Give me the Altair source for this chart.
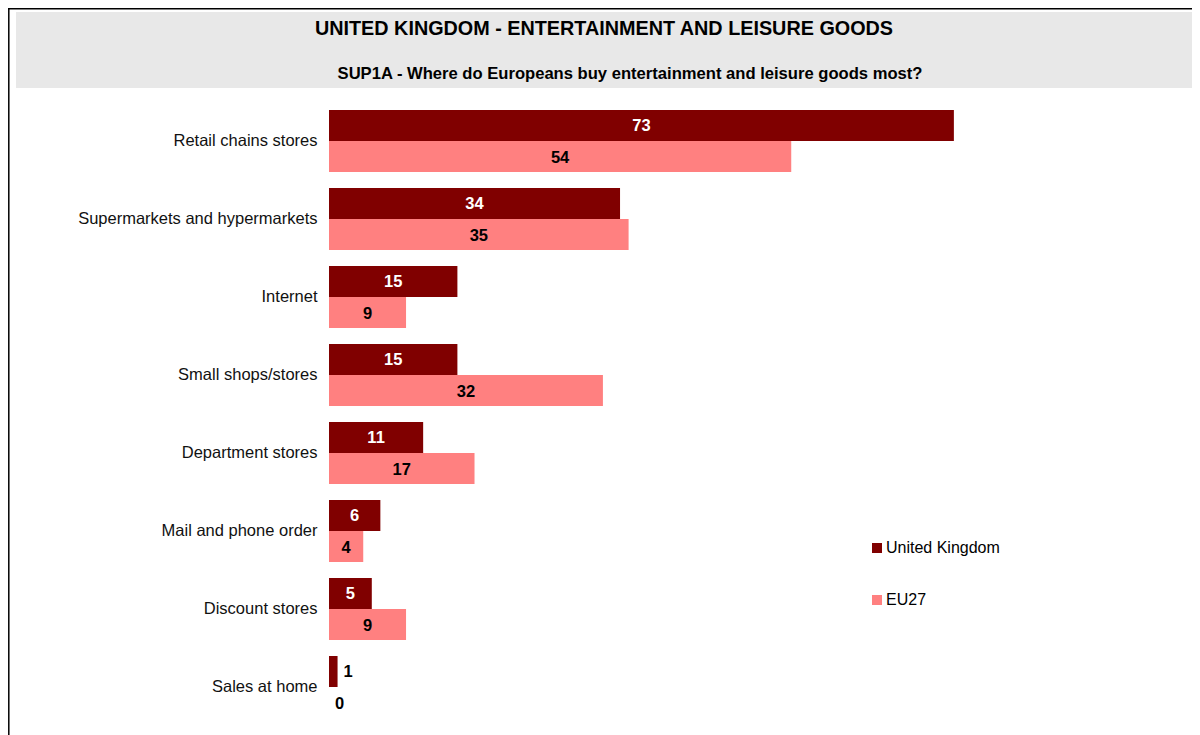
import altair as alt
import pandas as pd

categories = ["Retail chains stores", "Supermarkets and hypermarkets", "Internet",
              "Small shops/stores", "Department stores", "Mail and phone order",
              "Discount stores", "Sales at home"]
series = ["United Kingdom", "EU27"]
uk_values = [73, 34, 15, 15, 11, 6, 5, 1]
eu_values = [54, 35, 9, 32, 17, 4, 9, 0]
colors = ["#800000", "#FF8080"]
title_text = "UNITED KINGDOM - ENTERTAINMENT AND LEISURE GOODS"
subtitle_text = "SUP1A - Where do Europeans buy entertainment and leisure goods most?"

rows = []
for c, u, e in zip(categories, uk_values, eu_values):
    rows.append({"category": c, "series": series[0], "value": u})
    rows.append({"category": c, "series": series[1], "value": e})
df = pd.DataFrame(rows)

FONT = "Liberation Sans"
LBL = 16.5

base = alt.Chart(df)

y_enc = alt.Y("category:N", sort=categories,
              scale=alt.Scale(paddingInner=0.205, paddingOuter=0.1025),
              axis=alt.Axis(title=None, domain=False, ticks=False, labelFontSize=LBL,
                            labelPadding=12, labelColor="#111111", labelFont=FONT,
                            labelLimit=400))
yoff_enc = alt.YOffset("series:N", sort=series,
                       scale=alt.Scale(domain=series, paddingInner=0, paddingOuter=0))
x_scale = alt.Scale(domain=[0, 100])

bars = base.mark_bar().encode(
    y=y_enc,
    yOffset=yoff_enc,
    x=alt.X("value:Q", scale=x_scale, axis=None),
    color=alt.Color("series:N", sort=series,
                    scale=alt.Scale(domain=series, range=colors),
                    legend=alt.Legend(title=None, orient="none", legendX=540, legendY=438,
                                      symbolType="square", symbolSize=100,
                                      symbolStrokeWidth=0, labelFontSize=16,
                                      labelFont=FONT, labelColor="black",
                                      rowPadding=36, labelOffset=1)),
)

inside_uk = base.transform_filter(
    (alt.datum.value >= 3) & (alt.datum.series == series[0])
).transform_calculate(mid="datum.value / 2").mark_text(
    font=FONT, fontSize=LBL, fontWeight="bold", color="white", align="center",
    baseline="middle", dy=1
).encode(y=y_enc, yOffset=yoff_enc, x=alt.X("mid:Q", scale=x_scale, axis=None),
         text=alt.Text("value:Q"))

inside_eu = base.transform_filter(
    (alt.datum.value >= 3) & (alt.datum.series == series[1])
).transform_calculate(mid="datum.value / 2").mark_text(
    font=FONT, fontSize=LBL, fontWeight="bold", color="black", align="center",
    baseline="middle", dy=1
).encode(y=y_enc, yOffset=yoff_enc, x=alt.X("mid:Q", scale=x_scale, axis=None),
         text=alt.Text("value:Q"))

outside = base.transform_filter(alt.datum.value < 3).mark_text(
    font=FONT, fontSize=LBL, fontWeight="bold", color="black", align="left",
    baseline="middle", dx=6, dy=1
).encode(y=y_enc, yOffset=yoff_enc, x=alt.X("value:Q", scale=x_scale, axis=None),
         text=alt.Text("value:Q"))

deco = alt.Chart(pd.DataFrame({"a": [0]}))
band = deco.mark_rect(color="#E8E8E8").encode(
    x=alt.value(-313), x2=alt.value(863), y=alt.value(-90), y2=alt.value(-14))
title = deco.mark_text(font=FONT, fontSize=19.8, fontWeight="bold", color="black",
                       align="center", baseline="middle", text=title_text).encode(
    x=alt.value(275), y=alt.value(-73))
subtitle = deco.mark_text(font=FONT, fontSize=16.6, fontWeight="bold", color="black",
                          align="center", baseline="middle", text=subtitle_text).encode(
    x=alt.value(301), y=alt.value(-28.5))
left_border = deco.mark_rule(color="black", strokeWidth=1.5).encode(
    x=alt.value(-320.2), y=alt.value(-94), y2=alt.value(640))
top_border = deco.mark_rule(color="black", strokeWidth=1.5).encode(
    y=alt.value(-93.2), x=alt.value(-322), x2=alt.value(900))

chart = alt.layer(band, title, subtitle, left_border, top_border,
                  bars, inside_uk, inside_eu, outside).properties(
    width=856, height=624,
    autosize=alt.AutoSizeParams(type="none"),
    padding={"left": 321, "top": 94, "right": 7, "bottom": 9},
    background="white",
).configure_view(stroke=None)

chart.save("out.html", embed_options={"renderer": "svg", "actions": False})
